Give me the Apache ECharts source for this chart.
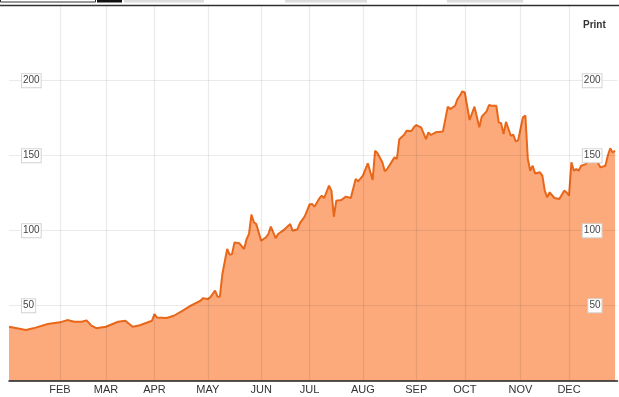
<!DOCTYPE html>
<html>
<head>
<meta charset="utf-8">
<script src="https://cdn.jsdelivr.net/npm/echarts@6/dist/echarts.min.js"></script>
<style>
  html, body { margin: 0; padding: 0; background: #fff; }
  #chart { width: 619px; height: 397px; }
</style>
</head>
<body>
<div id="chart"></div>
<script>
// Month names and the number of trading days in each month (2013)
const months = ['JAN','FEB','MAR','APR','MAY','JUN','JUL','AUG','SEP','OCT','NOV','DEC'];
const tradingDays = [21,19,20,22,22,20,22,22,20,23,20,21];

// Trading-day index of each sampled point, and its price
const pointDays = [0,7,10,16,21,24,27,30,32,34,36,40,45,48,51,54,59,60,61,65,68,71,75,79,80,82,83,85,86,87,88,90,91,92,93,95,97,98,99,100,101,102,103,104,106,107,108,110,111,113,116,117,119,120,122,124,125,126,128,129,130,132,133,134,135,137,139,141,143,144,146,148,150,151,152,154,155,156,159,160,161,163,164,166,167,168,170,172,173,174,176,179,181,182,184,185,186,187,188,190,192,194,195,197,198,199,201,202,203,204,205,207,208,209,210,212,213,214,215,216,217,219,220,221,222,223,225,227,229,230,231,232,233,234,235,236,238,239,240,242,244,246,247,248,249,250];
const pointValues = [36.0,33.8,34.9,37.8,38.9,40.4,39.3,39.3,40.2,36.7,35.0,36.0,39.3,40.0,36.0,37.0,40.0,44.4,42.2,41.8,43.3,46.0,50.0,53.3,55.0,54.4,55.5,60.0,56.0,56.0,71.0,87.8,84.0,84.4,92.2,91.6,87.8,94.4,97.8,110.7,105.6,104.4,98.9,93.3,95.6,97.8,102.7,95.0,97.8,100.0,104.4,100.0,101.0,105.0,109.5,117.5,117.8,116.0,121.5,123.3,121.8,130.0,126.7,109.3,120.0,120.4,122.7,121.8,134.4,132.9,136.7,144.9,133.8,153.3,151.6,145.6,139.6,141.1,148.9,147.8,161.0,164.0,166.7,166.5,169.0,170.4,168.9,161.1,165.6,163.8,165.6,166.2,182.7,181.1,183.3,187.8,190.0,192.9,192.2,173.8,182.7,168.9,176.0,179.6,183.8,183.3,183.3,172.2,171.6,164.4,172.5,163.3,164.0,159.5,160.2,175.6,176.7,148.0,140.0,143.3,138.2,138.9,136.7,126.7,122.2,125.6,121.8,121.1,126.7,125.6,123.3,145.6,140.0,141.1,140.0,143.3,144.4,148.9,150.0,148.0,142.2,143.3,150.0,155.0,152.2,153.3];

// Y tick values shown as labels
const yTicks = [50, 100, 150, 200];

const categories = [];
months.forEach((m, i) => {
  for (let d = 1; d <= tradingDays[i]; d++) categories.push(m + ' ' + d);
});
const isMonthStart = (idx, val) => idx > 0 && / 1$/.test(val);

const seriesData = pointDays.map((d, i) => [categories[d], pointValues[i]]);

const chart = echarts.init(document.getElementById('chart'), null, { renderer: 'canvas' });

const yLabel = {
  inside: true,
  showMinLabel: false,
  showMaxLabel: false,
  fontFamily: 'Liberation Sans, Arial, sans-serif',
  fontSize: 10,
  color: '#444',
  backgroundColor: '#fff',
  borderColor: '#d4d4d4',
  borderWidth: 1,
  padding: [2, 1, 1, 1],
  formatter: v => String(v)
};

chart.setOption({
  animation: false,
  backgroundColor: '#fff',
  grid: { left: 9, right: 1.5, top: 5.7, bottom: 16.3, containLabel: false },
  xAxis: {
    type: 'category',
    data: categories,
    boundaryGap: false,
    z: 5,
    axisLine: { show: true, lineStyle: { color: '#222', width: 1.5 } },
    axisTick: { show: false },
    axisLabel: {
      interval: isMonthStart,
      formatter: v => v.split(' ')[0],
      fontFamily: 'Liberation Sans, Arial, sans-serif',
      fontSize: 11,
      color: '#333',
      margin: 4
    },
    splitLine: { show: true, interval: isMonthStart, lineStyle: { color: 'rgba(0,0,0,0.08)', width: 1.2 } }
  },
  yAxis: [
    {
      type: 'value', min: 0, max: 250, interval: 50, position: 'left', z: 5,
      axisLine: { show: false }, axisTick: { show: false },
      axisLabel: Object.assign({}, yLabel, { margin: 13 }),
      splitLine: { show: true, lineStyle: { color: 'rgba(0,0,0,0.08)', width: 1.2 } }
    },
    {
      type: 'value', min: 0, max: 250, interval: 50, position: 'right', z: 5,
      axisLine: { show: false }, axisTick: { show: false },
      axisLabel: Object.assign({}, yLabel, { margin: 16 }),
      splitLine: { show: false }
    }
  ],
  series: [{
    type: 'line',
    data: seriesData,
    yAxisIndex: 0,
    symbol: 'none',
    z: 2,
    lineStyle: { color: '#e8671a', width: 2 },
    areaStyle: { color: '#fcaa7b', opacity: 1 }
  }],
  graphic: [
    { type: 'rect', shape: { x: 0.5, y: -1, width: 95, height: 3 }, style: { fill: '#fff', stroke: '#333', lineWidth: 1 }, silent: true },
    { type: 'rect', shape: { x: 97, y: 0, width: 25, height: 2.5 }, style: { fill: '#111' }, silent: true },
    { type: 'rect', shape: { x: 124, y: 0, width: 80, height: 2.5 }, style: { fill: '#dcdcdc' }, silent: true },
    { type: 'rect', shape: { x: 285, y: 0, width: 82, height: 2.5 }, style: { fill: '#dcdcdc' }, silent: true },
    { type: 'rect', shape: { x: 447, y: 0, width: 76, height: 2.5 }, style: { fill: '#dcdcdc' }, silent: true },
    { type: 'line', shape: { x1: 0, y1: 5.5, x2: 619, y2: 5.5 }, style: { stroke: '#333', lineWidth: 1.5 }, silent: true },
    { type: 'text', left: 583, top: 20, style: { text: 'Print', fill: '#333', font: 'bold 10px Liberation Sans, Arial, sans-serif' }, silent: true }
  ]
});
</script>
</body>
</html>
